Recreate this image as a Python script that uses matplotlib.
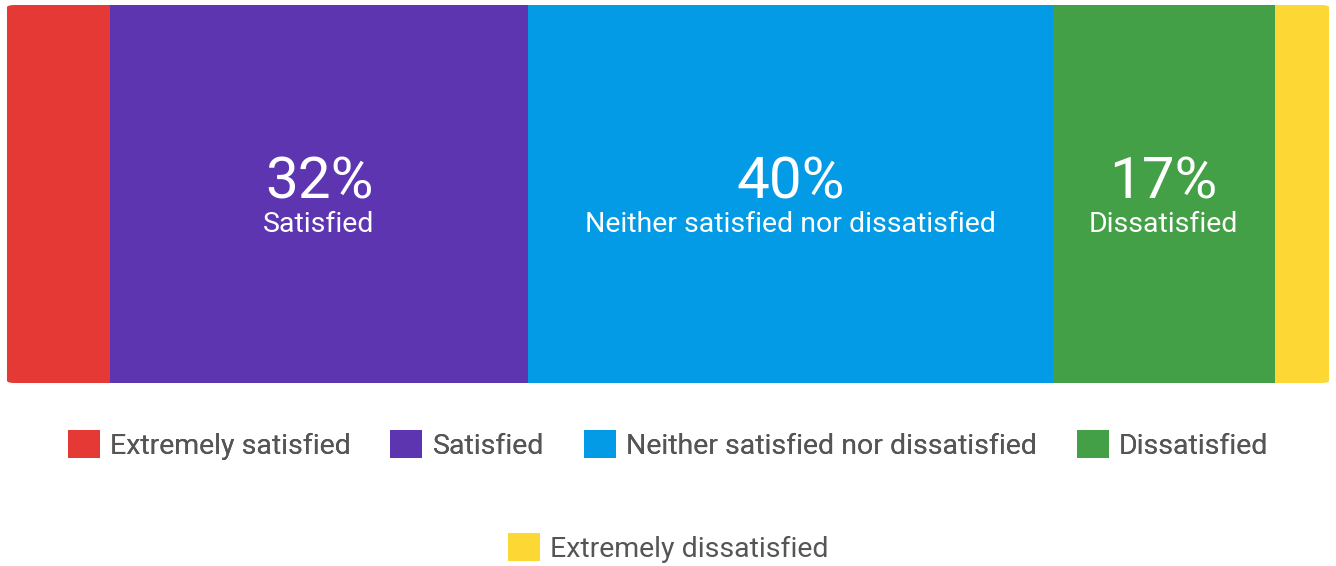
import matplotlib.pyplot as plt
from matplotlib.patches import FancyBboxPatch, Patch

plt.rcParams['font.family'] = ['Roboto', 'DejaVu Sans']

categories = ['Extremely satisfied', 'Satisfied', 'Neither satisfied nor dissatisfied',
              'Dissatisfied', 'Extremely dissatisfied']
shares = [7.8, 31.6, 39.7, 16.8, 4.1]
colors = ['#E53935', '#5E35B1', '#039BE5', '#43A047', '#FDD835']

fig = plt.figure(figsize=(13.36, 5.66), dpi=100)
ax = fig.add_axes([7 / 1336, 1 - 383 / 566, 1322 / 1336, 378 / 566])
total = sum(shares)
ax.set_xlim(0, total)
ax.set_ylim(0, 1)
ax.axis('off')

clip = FancyBboxPatch((0, 0), 1, 1, boxstyle='round,pad=0,rounding_size=0.006',
                      transform=ax.transAxes, facecolor='none', edgecolor='none')
ax.add_patch(clip)

left = 0
for name, val, c in zip(categories, shares, colors):
    bars = ax.barh(0.5, val, left=left, height=1, color=c, linewidth=0)
    for b in bars:
        b.set_clip_path(clip)
    if val > 10:
        mid = left + val / 2
        ax.text(mid, 0.53, f'{round(val)}%', color='white', fontsize=42,
                ha='center', va='center')
        ax.text(mid, 0.42, name, color='white', fontsize=20.5,
                ha='center', va='center')
    left += val

handles = [Patch(facecolor=c, edgecolor='none', label=n) for n, c in zip(categories, colors)]
common = dict(frameon=False, fontsize=20.5, handlelength=1.12, handleheight=1.12,
              handletextpad=0.36, columnspacing=1.4, labelcolor='#555555')
leg1 = fig.legend(handles=handles[:4], ncol=4, loc='center', bbox_to_anchor=(0.5, 1 - 445 / 566), **common)
fig.add_artist(leg1)
fig.legend(handles=handles[4:], ncol=1, loc='center', bbox_to_anchor=(0.5, 1 - 548 / 566), **common)

fig.savefig('out.png', dpi=100)
